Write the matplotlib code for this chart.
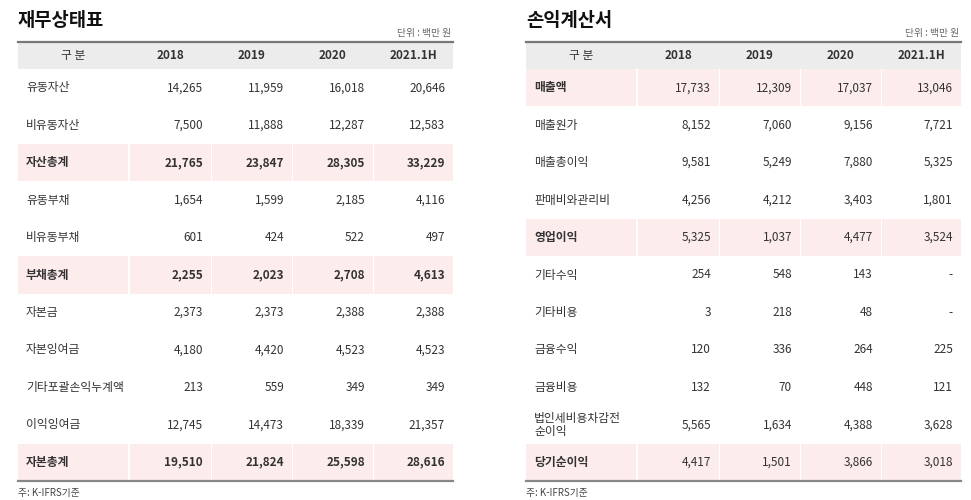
import matplotlib.pyplot as plt
from matplotlib.patches import Rectangle

plt.rcParams['font.family'] = ['Noto Sans CJK KR', 'DejaVu Sans']

years = ["2018", "2019", "2020", "2021.1H"]

bs_labels = ["유동자산", "비유동자산", "자산총계", "유동부채", "비유동부채", "부채총계",
             "자본금", "자본잉여금", "기타포괄손익누계액", "이익잉여금", "자본총계"]
bs_values = [
    ["14,265", "11,959", "16,018", "20,646"],
    ["7,500", "11,888", "12,287", "12,583"],
    ["21,765", "23,847", "28,305", "33,229"],
    ["1,654", "1,599", "2,185", "4,116"],
    ["601", "424", "522", "497"],
    ["2,255", "2,023", "2,708", "4,613"],
    ["2,373", "2,373", "2,388", "2,388"],
    ["4,180", "4,420", "4,523", "4,523"],
    ["213", "559", "349", "349"],
    ["12,745", "14,473", "18,339", "21,357"],
    ["19,510", "21,824", "25,598", "28,616"],
]
bs_bold = [2, 5, 10]

is_labels = ["매출액", "매출원가", "매출총이익", "판매비와관리비", "영업이익", "기타수익",
             "기타비용", "금융수익", "금융비용", "법인세비용차감전\n순이익", "당기순이익"]
is_values = [
    ["17,733", "12,309", "17,037", "13,046"],
    ["8,152", "7,060", "9,156", "7,721"],
    ["9,581", "5,249", "7,880", "5,325"],
    ["4,256", "4,212", "3,403", "1,801"],
    ["5,325", "1,037", "4,477", "3,524"],
    ["254", "548", "143", "-"],
    ["3", "218", "48", "-"],
    ["120", "336", "264", "225"],
    ["132", "70", "448", "121"],
    ["5,565", "1,634", "4,388", "3,628"],
    ["4,417", "1,501", "3,866", "3,018"],
]
is_bold = [0, 4, 10]

fig = plt.figure(figsize=(9.71, 5.0), dpi=100)
ax = fig.add_axes([0, 0, 1, 1])
ax.set_xlim(0, 971)
ax.set_ylim(500, 0)
ax.axis("off")

HL = "#fcecec"
HEAD = "#ececec"
TXT = "#333333"


def draw_table(x0, title, labels, values, bold_rows, bold_numbers):
    edges = [x0, x0 + 111, x0 + 193, x0 + 274, x0 + 355, x0 + 435]
    top, head_h = 42, 27
    row_h = (481 - top - head_h) / len(labels)
    ax.text(x0, 20, title, fontsize=13.5, fontweight="bold", va="center", color="#111111")
    ax.text(edges[-1] - 2, 33, "단위 : 백만 원", fontsize=7, ha="right", va="center", color="#666666")
    ax.add_patch(Rectangle((x0, top), edges[-1] - x0, head_h, color=HEAD, lw=0))
    ax.plot([x0, edges[-1]], [top, top], color="#777777", lw=1.6)
    ax.text((edges[0] + edges[1]) / 2, top + head_h / 2, "구 분", fontsize=8.5, ha="center", va="center", color=TXT)
    for j, y in enumerate(years):
        ax.text((edges[j + 1] + edges[j + 2]) / 2, top + head_h / 2, y, fontsize=8.5,
                fontweight="bold", ha="center", va="center", color=TXT)
    for i, lab in enumerate(labels):
        y0 = top + head_h + i * row_h
        yc = y0 + row_h / 2
        b = i in bold_rows
        if b:
            for k in range(5):
                ax.add_patch(Rectangle((edges[k] + (1 if k else 0), y0), edges[k + 1] - edges[k] - 1, row_h, color=HL, lw=0))
        fw = "bold" if b else "normal"
        nfw = fw if bold_numbers else "normal"
        ax.text(x0 + 8, yc, lab, fontsize=8.5, fontweight=fw, ha="left", va="center", color=TXT, linespacing=1.05)
        for j, v in enumerate(values[i]):
            ax.text(edges[j + 2] - 8, yc, v, fontsize=8.5, fontweight=nfw, ha="right", va="center", color=TXT)
    ax.plot([x0, edges[-1]], [481, 481], color="#888888", lw=1.6)
    ax.text(x0, 493, "주: K-IFRS기준", fontsize=7, va="center", color="#444444")


draw_table(18, "재무상태표", bs_labels, bs_values, bs_bold, True)
draw_table(526, "손익계산서", is_labels, is_values, is_bold, False)

fig.savefig("out.png", dpi=100)
